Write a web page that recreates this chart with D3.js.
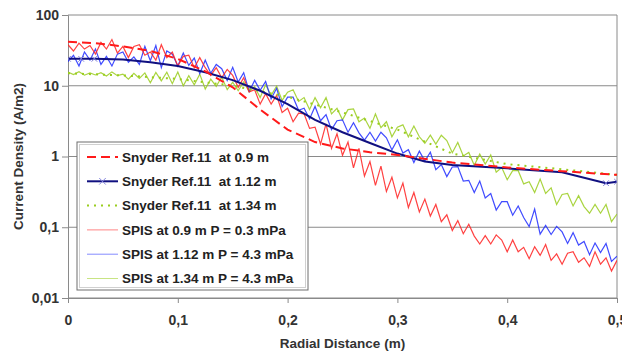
<!DOCTYPE html>
<html>
<head>
<meta charset="utf-8">
<script src="https://cdn.jsdelivr.net/npm/d3@7"></script>
<style>
  body { margin: 0; background: #fff; }
  svg { display: block; font-family: "Liberation Sans", Arial, sans-serif; font-weight: bold; }
</style>
</head>
<body>
<svg width="622" height="352"></svg>
<script>
// axis ticks
const xTicks = [0, 0.1, 0.2, 0.3, 0.4, 0.5];
const yTicks = [0.01, 0.1, 1, 10, 100];

// Snyder Ref.11 curves
const snyder09R = [0, 0.025, 0.05, 0.075, 0.1, 0.125, 0.15, 0.175, 0.2, 0.225, 0.25, 0.275, 0.3, 0.35, 0.4, 0.45, 0.5];
const snyder09 = [42, 40, 36, 31, 24, 16, 9.5, 4.6, 2.4, 1.6, 1.3, 1.15, 1.05, 0.82, 0.7, 0.62, 0.55];
const snyder112R = [0, 0.012, 0.024, 0.05, 0.075, 0.1, 0.125, 0.15, 0.175, 0.2, 0.225, 0.25, 0.275, 0.3, 0.325, 0.35, 0.4, 0.45, 0.49, 0.5];
const snyder112 = [24, 24, 24, 23.5, 21.5, 19, 15.5, 12, 8.5, 5.5, 3.3, 2.2, 1.55, 1.1, 0.85, 0.76, 0.68, 0.6, 0.42, 0.44];
const snyder134R = [0, 0.05, 0.1, 0.15, 0.2, 0.25, 0.3, 0.35, 0.4, 0.45, 0.5];
const snyder134 = [15, 14, 12.5, 10, 7, 4.2, 2.4, 1.1, 0.78, 0.66, 0.55];

// SPIS results, sampled every 0.005 m
const spisR = d3.range(101).map(i => +(i * 0.005).toFixed(3));
const spis09 = [
  38, 31, 40, 33, 37, 28, 41, 33, 45, 29, 36,
  25, 36, 38, 27, 30, 23, 38, 25, 30, 19,
  26, 27, 18, 25, 18, 14, 18, 13, 17, 14,
  9.5, 13, 8.2, 8.8, 5.5, 7.7, 5.5, 7.3, 4.2, 4.8,
  3.1, 4.1, 4.0, 2.5, 2.6, 1.5, 2.9, 1.3, 2.1, 1.04,
  1.6, 0.69, 1.3, 0.53, 0.85, 0.39, 0.73, 0.32, 0.51, 0.26,
  0.42, 0.19, 0.31, 0.165, 0.25, 0.144, 0.21, 0.12, 0.15, 0.09,
  0.124, 0.081, 0.11, 0.075, 0.058, 0.076, 0.058, 0.078, 0.066, 0.045,
  0.066, 0.045, 0.052, 0.036, 0.053, 0.040, 0.057, 0.034, 0.042, 0.030,
  0.043, 0.045, 0.032, 0.037, 0.028, 0.045, 0.030, 0.037, 0.024, 0.034
];
const spis112 = [
  22, 27, 19, 30, 23, 33, 20, 26, 19, 28, 30,
  21.5, 25.6, 20, 36, 22.6, 37, 18, 31, 28, 19,
  29, 19.4, 24.6, 14.9, 23, 15, 20, 17.4, 11.9, 18.2,
  11.3, 15.3, 8.3, 11.9, 8.6, 11.5, 6.5, 9.2, 5.1, 6.9,
  6.9, 4.5, 4.8, 3.4, 5.1, 3.2, 3.9, 2.4, 3.2, 3.3,
  2.2, 3.0, 2.16, 1.7, 2.2, 1.65, 2.2, 1.84, 1.24, 1.72,
  1.12, 1.25, 0.82, 1.19, 0.86, 1.15, 0.65, 0.77, 0.52, 0.71,
  0.72, 0.45, 0.46, 0.31, 0.45, 0.26, 0.30, 0.175, 0.23, 0.23,
  0.148, 0.2, 0.137, 0.102, 0.18, 0.08, 0.106, 0.079, 0.103, 0.086,
  0.059, 0.084, 0.056, 0.063, 0.041, 0.06, 0.044, 0.059, 0.033, 0.039
];
const spis134 = [
  15.6, 14.4, 15.8, 14.1, 15.2, 14.2, 15.3, 13.7, 15.7, 13.9, 14.6,
  12.4, 15, 12.7, 15.2, 11, 15.4, 11.7, 15.5, 10.7, 15.6,
  10, 13.9, 10.3, 14.6, 9, 12.4, 9.8, 13.3, 8.8, 11.2,
  8.5, 11.3, 8.2, 9.7, 6.8, 10.3, 7.3, 9.9, 6.2, 8.1,
  8.8, 6.0, 6.8, 4.6, 6.8, 4.9, 6.8, 4.0, 4.8, 3.3,
  4.6, 4.7, 3.1, 3.5, 2.5, 4.0, 2.55, 3.1, 1.9, 2.6,
  2.8, 1.9, 2.7, 1.9, 1.54, 2.0, 1.5, 2.0, 1.68, 1.13,
  1.58, 1.02, 1.14, 0.75, 1.08, 0.78, 1.05, 0.6, 0.7, 0.47,
  0.63, 0.63, 0.41, 0.44, 0.31, 0.48, 0.30, 0.36, 0.21, 0.29,
  0.30, 0.20, 0.28, 0.196, 0.158, 0.21, 0.158, 0.21, 0.12, 0.154
];

const svg = d3.select('svg');
const plotL = 68, plotR = 617, plotT = 15, plotB = 298;

const x = d3.scaleLinear().domain([0, 0.5]).range([plotL, plotR]);
const y = d3.scaleLog().domain([0.01, 100]).range([plotB, plotT]);
const fmt = d => String(d).replace('.', ',');

// grid and frame
svg.append('g')
  .selectAll('line')
  .data(yTicks)
  .enter().append('line')
  .attr('x1', plotL).attr('x2', plotR)
  .attr('y1', d => y(d)).attr('y2', d => y(d))
  .attr('stroke', '#8a8a8a');
svg.append('line')
  .attr('x1', plotR).attr('x2', plotR).attr('y1', plotT).attr('y2', plotB)
  .attr('stroke', '#8a8a8a');

const yAxis = svg.append('g')
  .attr('transform', `translate(${plotL},0)`)
  .call(d3.axisLeft(y).tickValues(yTicks).tickFormat(fmt).tickSize(6).tickPadding(3));
const xAxis = svg.append('g')
  .attr('transform', `translate(0,${plotB})`)
  .call(d3.axisBottom(x).tickValues(xTicks).tickFormat(fmt).tickSize(5).tickPadding(12));
[yAxis, xAxis].forEach(g => {
  g.select('.domain').attr('stroke', '#8a8a8a');
  g.selectAll('.tick line').attr('stroke', '#8a8a8a');
  g.selectAll('text').attr('fill', '#333').style('font-size', '14px').style('font-weight', 'bold');
});

svg.append('text')
  .attr('x', (plotL + plotR) / 2).attr('y', 348)
  .attr('text-anchor', 'middle')
  .attr('fill', '#333').style('font-size', '13.5px')
  .text('Radial Distance (m)');
svg.append('text')
  .attr('transform', `translate(23,${(plotT + plotB) / 2}) rotate(-90)`)
  .attr('text-anchor', 'middle')
  .attr('fill', '#333').style('font-size', '13.5px')
  .text('Current Density (A/m2)');

svg.append('clipPath').attr('id', 'plot')
  .append('rect').attr('x', plotL).attr('y', plotT).attr('width', plotR - plotL).attr('height', plotB - plotT);

const plot = svg.append('g').attr('clip-path', 'url(#plot)');
const line = d3.line().x(d => x(d[0])).y(d => y(d[1]));
const zip = (rs, vs) => rs.map((r, i) => [r, vs[i]]);

const series = [
  { name: 'SPIS at 1.34 m P = 4.3 mPa', r: spisR, v: spis134, color: '#9acd1e', width: 1.2, dash: null, opacity: 0.85 },
  { name: 'SPIS at 1.12 m P = 4.3 mPa', r: spisR, v: spis112, color: '#1f2bff', width: 1.2, dash: null, opacity: 0.85 },
  { name: 'SPIS at 0.9 m P = 0.3 mPa', r: spisR, v: spis09, color: '#ff2020', width: 1.2, dash: null, opacity: 0.85 },
  { name: 'Snyder Ref.11  at 1.34 m', r: snyder134R, v: snyder134, color: '#9acd1e', width: 2, dash: '2,5', opacity: 1 },
  { name: 'Snyder Ref.11  at 1.12 m', r: snyder112R, v: snyder112, color: '#101080', width: 2, dash: null, opacity: 1, marker: true },
  { name: 'Snyder Ref.11  at 0.9 m', r: snyder09R, v: snyder09, color: '#ff1a1a', width: 2, dash: '9,5', opacity: 1 },
];

series.forEach(s => {
  plot.append('path')
    .datum(zip(s.r, s.v))
    .attr('d', line)
    .attr('fill', 'none')
    .attr('stroke', s.color)
    .attr('stroke-width', s.width)
    .attr('stroke-dasharray', s.dash)
    .attr('stroke-opacity', s.opacity);
  if (s.marker) {
    plot.append('g')
      .selectAll('path')
      .data(zip(s.r, s.v).filter(d => d[0] < 0.03 || d[0] > 0.48))
      .enter().append('path')
      .attr('d', d3.symbol(d3.symbolX, 22))
      .attr('transform', d => `translate(${x(d[0])},${y(d[1])})`)
      .attr('fill', 'none')
      .attr('stroke', '#7a7ad8')
      .attr('stroke-width', 1);
  }
});

// legend
const legendOrder = [5, 4, 3, 2, 1, 0].map(i => series[i]);
const lg = svg.append('g').attr('transform', 'translate(77,142)');
lg.append('rect').attr('width', 231).attr('height', 148)
  .attr('fill', '#fff').attr('stroke', '#6e6e6e');
lg.append('rect').attr('x', 2.5).attr('y', 2.5).attr('width', 226).attr('height', 143)
  .attr('fill', 'none').attr('stroke', '#d0d0d0');

const row = lg.selectAll('g.row')
  .data(legendOrder)
  .enter().append('g')
  .attr('class', 'row')
  .attr('transform', (d, i) => `translate(0,${15 + i * 24.3})`);
row.append('line')
  .attr('x1', 10).attr('x2', 41)
  .attr('stroke', d => d.color)
  .attr('stroke-width', d => d.width === 2 ? 2 : 1)
  .attr('stroke-dasharray', d => d.dash)
  .attr('stroke-opacity', d => d.width === 2 ? 1 : 0.55);
row.filter(d => d.marker).append('path')
  .attr('d', d3.symbol(d3.symbolX, 30))
  .attr('transform', 'translate(25.5,0)')
  .attr('fill', 'none')
  .attr('stroke', '#8a8ae0');
row.append('text')
  .attr('x', 45).attr('dy', '0.35em')
  .attr('fill', '#222').style('font-size', '13.5px')
  .style('white-space', 'pre')
  .text(d => d.name);
</script>
</body>
</html>
